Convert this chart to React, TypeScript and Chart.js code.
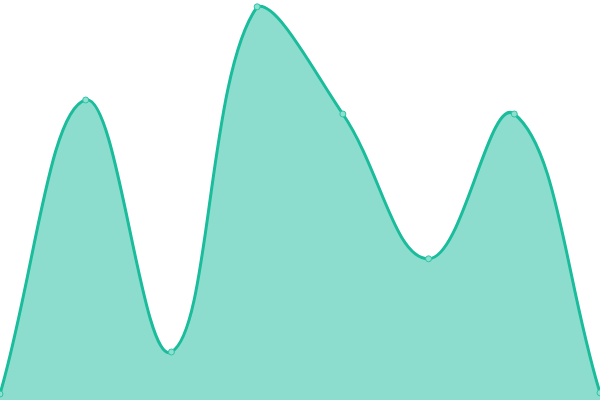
import { useEffect, useRef } from 'react';
import { Chart, registerables } from 'chart.js';

Chart.register(...registerables);

const labels = ['1', '2', '3', '4', '5', '6', '7', '8'];
const values = [1.5, 75, 12, 98.3, 71.5, 35.3, 71.5, 1.8];

const App: React.FC = () => {
  const chartRef = useRef<HTMLCanvasElement>(null);
  const chartInstance = useRef<Chart | null>(null);

  useEffect(() => {
    if (!chartRef.current) return;
    const ctx = chartRef.current.getContext('2d');
    if (!ctx) return;

    chartInstance.current = new Chart(ctx, {
      type: 'line',
      data: {
        labels,
        datasets: [
          {
            data: values,
            backgroundColor: 'rgba(26, 188, 156, 0.5)',
            borderColor: '#1abc9c',
            borderWidth: 3,
            fill: 'start',
            tension: 0.4,
            pointRadius: 3,
            pointBackgroundColor: '#8be0cf',
            pointBorderColor: '#2ec4a5',
            pointBorderWidth: 1,
          },
        ],
      },
      options: {
        responsive: false,
        animation: false,
        layout: { padding: 0, autoPadding: false },
        plugins: {
          legend: { display: false },
          tooltip: { enabled: false },
        },
        scales: {
          x: { display: false },
          y: { display: false, min: 0, max: 100 },
        },
      },
    });

    return () => {
      if (chartInstance.current) {
        chartInstance.current.destroy();
        chartInstance.current = null;
      }
    };
  }, []);

  return (
    <div style={{ position: 'fixed', left: 0, top: 0, width: 600, height: 400, background: '#fff' }}>
      <canvas ref={chartRef} width={600} height={400} />
    </div>
  );
};

export default App;
